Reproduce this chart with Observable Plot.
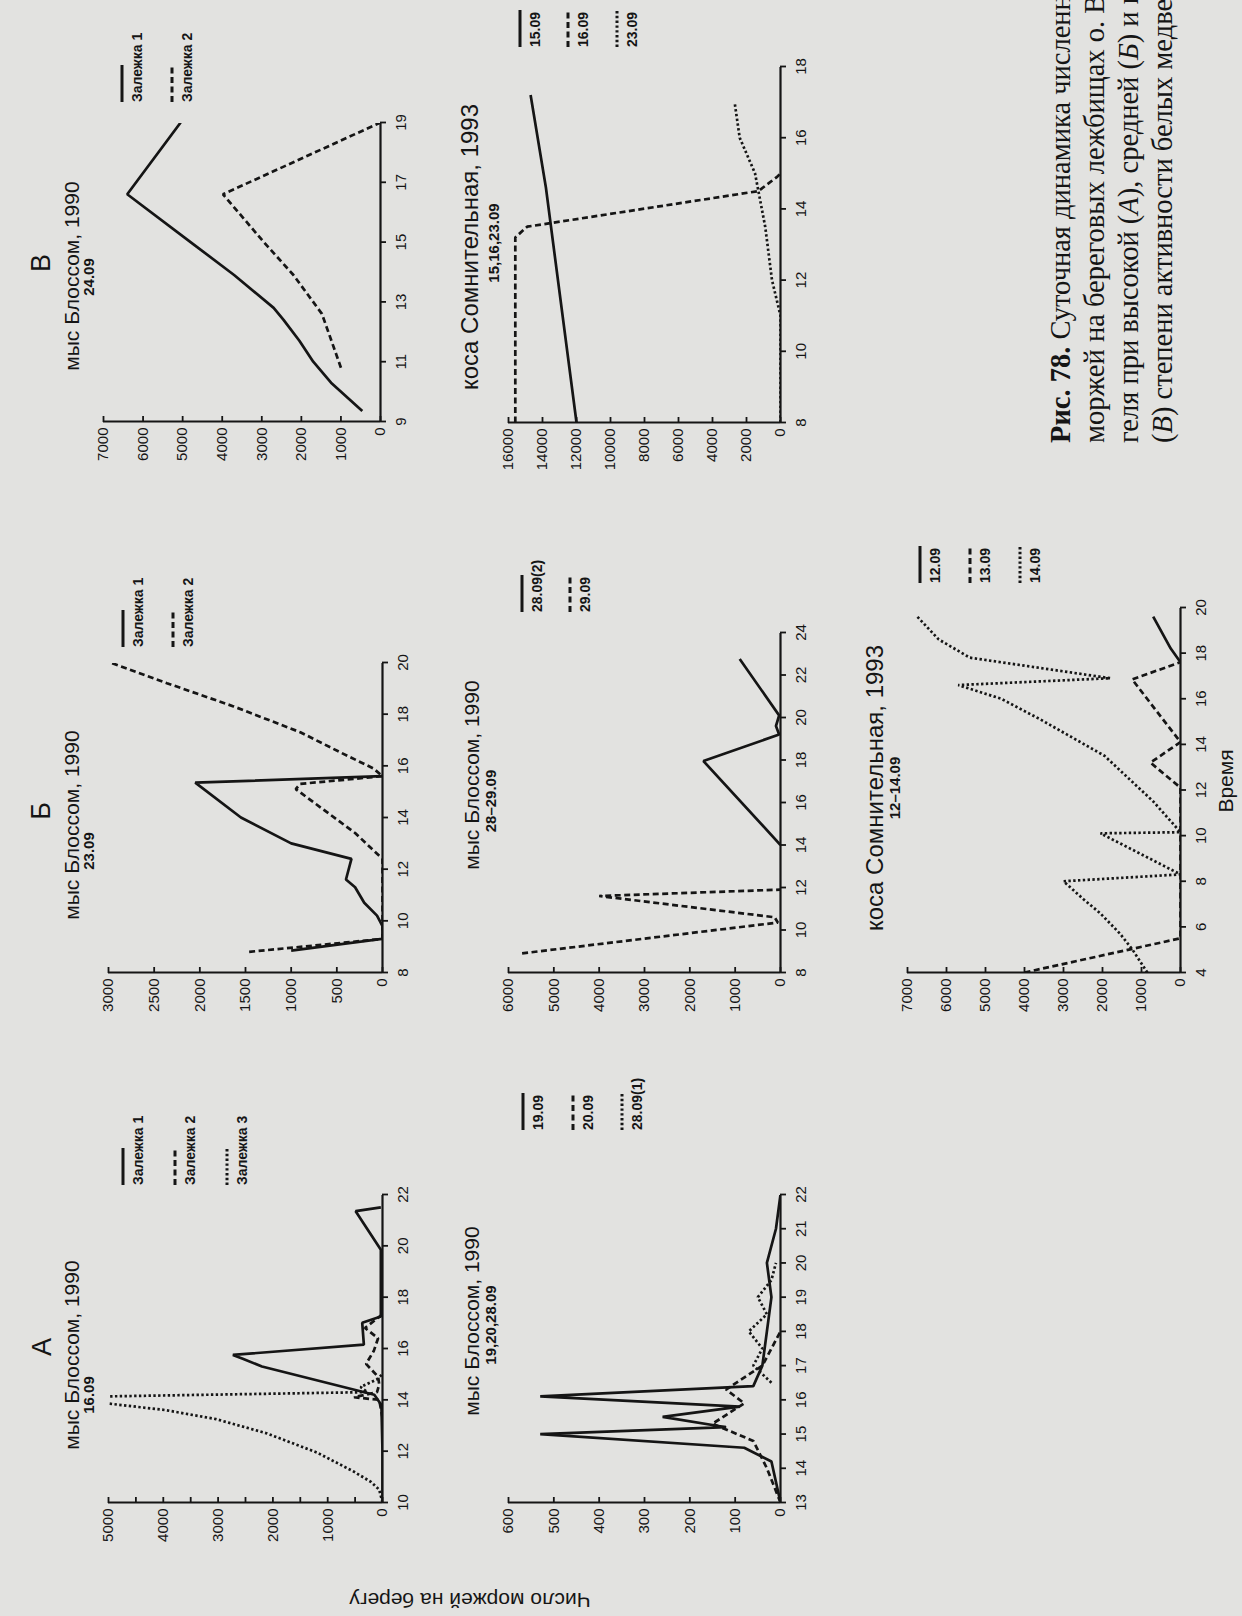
<!DOCTYPE html>
<html lang="ru"><head><meta charset="utf-8">
<script src="https://cdn.jsdelivr.net/npm/d3@7"></script>
<script src="https://cdn.jsdelivr.net/npm/@observablehq/plot@0.6"></script>
<style>
html,body{margin:0;padding:0;width:1242px;height:1616px;overflow:hidden;background:#e2e2e0;}
#page{position:absolute;left:0;top:0;width:1616px;height:1242px;transform-origin:0 0;transform:translate(0px,1616px) rotate(-90deg);font-family:"Liberation Sans",Arial,Helvetica,sans-serif;color:#151515;}
.t{position:absolute;white-space:nowrap;line-height:1;transform:translate(-50%,-50%);}
.letter{font-size:27px;}
.title{font-size:21px;}
.title2{font-size:24px;}
.sub{font-size:15px;font-weight:bold;}
.leg{position:absolute;font-size:14px;font-weight:bold;white-space:nowrap;line-height:1;}
.caption{position:absolute;font-family:"Liberation Serif","Times New Roman",serif;font-size:28.5px;line-height:34px;white-space:nowrap;}
</style></head><body><div id="page"></div>
<script>
// ===== DATA =====
// Panel А: мыс Блоссом, 1990, 16.09 (time, number of walruses)
const A_ticksX = [10, 12, 14, 16, 18, 20, 22];
const A_labelsY = [0, 1000, 2000, 3000, 4000, 5000];
const A_t1 = [10, 12, 13.8, 14.2, 15.3, 15.6, 15.75, 16.15, 17.0, 17.25, 18.0, 19.85, 21.35, 21.5];
const A_v1 = [0, 0, 20, 150, 2200, 2550, 2730, 340, 370, 30, 30, 30, 490, 30];
const A_t2 = [13.3, 14.0, 14.1, 14.3, 14.6, 14.9, 15.4, 15.9, 16.4, 16.8, 17.3];
const A_v2 = [0, 60, 520, 100, 60, 80, 300, 160, 80, 320, 20];
const A_t3 = [10, 10.5, 10.8, 11.2, 11.95, 12.7, 13.25, 13.6, 14.1, 14.3, 14.5, 14.8, 15.0];
const A_v3 = [0, 60, 210, 520, 1200, 2120, 3040, 3960, 6000, 275, 400, 100, 0];

// Panel Б: мыс Блоссом, 1990, 23.09
const B_ticksX = [8, 10, 12, 14, 16, 18, 20];
const B_labelsY = [0, 500, 1000, 1500, 2000, 2500, 3000];
const B_t1 = [8.85, 9.3, 9.8, 10.2, 10.7, 11.3, 11.6, 12.4, 13.0, 14.0, 15.35, 15.6];
const B_v1 = [1000, 0, 0, 60, 200, 300, 400, 340, 1000, 1550, 2050, 0];
const B_t2 = [8.8, 9.3, 12.4, 13.4, 15.1, 15.3, 15.6, 15.9, 16.5, 17.3, 18.3, 19.2, 20.0];
const B_v2 = [1460, 0, 0, 300, 950, 900, 0, 100, 450, 900, 1630, 2360, 2980];

// Panel В: мыс Блоссом, 1990, 24.09
const C_ticksX = [9, 11, 13, 15, 17, 19];
const C_labelsY = [0, 1000, 2000, 3000, 4000, 5000, 6000, 7000];
const C_t1 = [9.35, 10.3, 11.0, 11.7, 12.4, 12.8, 13.9, 14.9, 16.6, 19.0];
const C_v1 = [460, 1250, 1700, 2050, 2450, 2700, 3700, 4700, 6400, 5050];
const C_t2 = [10.8, 12.6, 13.9, 15.0, 16.6, 19.0];
const C_v2 = [1000, 1480, 2200, 2950, 3980, 0];

// Panel А (2): мыс Блоссом, 1990, 19, 20, 28.09
const D_ticksX = [13, 14, 15, 16, 17, 18, 19, 20, 21, 22];
const D_labelsY = [0, 100, 200, 300, 400, 500, 600];
const D_t1 = [13, 14.2, 14.6, 15.0, 15.2, 15.5, 15.8, 16.1, 16.4, 17, 18, 19, 20, 21, 22];
const D_v1 = [0, 20, 80, 530, 120, 260, 90, 530, 60, 40, 30, 20, 30, 10, 0];
const D_t2 = [13, 14.0, 14.8, 15.3, 15.9, 16.3, 17.0, 18.0];
const D_v2 = [0, 30, 60, 150, 80, 120, 40, 0];
const D_t3 = [16.5, 17.0, 17.5, 18.0, 18.5, 19.0, 19.5, 20.0];
const D_v3 = [20, 60, 40, 70, 30, 50, 20, 10];

// Panel Б (2): мыс Блоссом, 1990, 28–29.09
const E_ticksX = [8, 10, 12, 14, 16, 18, 20, 22, 24];
const E_labelsY = [0, 1000, 2000, 3000, 4000, 5000, 6000];
const E_t1 = [14.0, 17.95, 19.2, 19.6, 20.1, 22.75];
const E_v1 = [0, 1700, 30, 100, 30, 900];
const E_t2 = [8.9, 10.35, 10.6, 11.6, 11.9];
const E_v2 = [5700, 60, 130, 4000, 0];

// Panel В (2): коса Сомнительная, 1993, 15, 16, 23.09
const F_ticksX = [8, 10, 12, 14, 16, 18];
const F_labelsY = [0, 2000, 4000, 6000, 8000, 10000, 12000, 14000, 16000];
const F_t1 = [8.0, 14.6, 17.2];
const F_v1 = [12000, 13800, 14700];
const F_t2 = [8.0, 13.2, 13.5, 14.5, 14.9, 15.0];
const F_v2 = [15600, 15600, 14900, 1300, 200, 0];
const F_t3 = [8.0, 11.0, 12.0, 13.5, 15.0, 16.0, 17.0];
const F_v3 = [0, 0, 500, 900, 1500, 2400, 2700];

// Panel Б (3): коса Сомнительная, 1993, 12–14.09
const G_ticksX = [4, 6, 8, 10, 12, 14, 16, 18, 20];
const G_labelsY = [0, 1000, 2000, 3000, 4000, 5000, 6000, 7000];
const G_t1 = [17.6, 18.2, 19.6];
const G_v1 = [0, 250, 700];
const G_t2 = [4.0, 5.5, 12.1, 13.2, 14.1, 16.85, 17.6];
const G_v2 = [4000, 0, 0, 770, 0, 1240, 0];
const G_t3 = [4.0, 5.0, 5.7, 6.6, 7.2, 8.0, 8.3, 10.1, 10.15, 11.5, 13.5, 15.1, 16.0, 16.6, 16.9, 17.6, 17.8, 18.6, 19.6];
const G_v3 = [850, 1230, 1550, 2060, 2480, 3000, 0, 2050, 0, 700, 1950, 3600, 4600, 5700, 1800, 4600, 5400, 6200, 6750];

// ===== RENDERING =====
const INK = "#151515";
const DASH = {solid: null, dashed: "6,3.5", dotted: "2.4,2.4"};
const page = document.getElementById("page");
const zip = (t, v) => t.map((d, i) => ({t: d, v: v[i]}));
const range = (a, b, s) => d3.range(a, b + s / 2, s);

function panel(cfg) {
  const mL = 60, mR = 14, mT = 12, mB = 40;
  const W = cfg.px[1] - cfg.px[0], H = cfg.py[1] - cfg.py[0];
  const yMax = cfg.labelsY[cfg.labelsY.length - 1];
  const marks = [
    Plot.ruleY(cfg.ticksY, {stroke: INK, strokeWidth: 1.8, insetRight: W - 6}),
    Plot.axisY({ticks: cfg.labelsY, tickSize: 0, tickPadding: 6, fontSize: 15, tickFormat: d => String(d), label: null}),
    Plot.axisX({ticks: cfg.ticksX, tickSize: 6, tickPadding: 9, fontSize: 15, strokeWidth: 1.8, tickFormat: d => String(d), label: null}),
    Plot.ruleX([cfg.x[0]], {y1: 0, y2: yMax, stroke: INK, strokeWidth: 2.2}),
    Plot.ruleY([0], {x1: cfg.x[0], x2: cfg.x[1], stroke: INK, strokeWidth: 2.2})
  ];
  for (const s of cfg.series) {
    marks.push(Plot.line(zip(s.t, s.v), {x: "t", y: "v", stroke: INK, strokeWidth: 2.7,
      strokeDasharray: DASH[s.style], strokeLinecap: "butt", strokeLinejoin: "miter", clip: true}));
  }
  const svg = Plot.plot({
    width: W + mL + mR, height: H + mT + mB,
    marginLeft: mL, marginRight: mR, marginTop: mT, marginBottom: mB,
    x: {domain: cfg.x}, y: {domain: [0, yMax]},
    style: {background: "transparent", color: INK, fontFamily: "'Liberation Sans', Arial, sans-serif", fontSize: "15px", overflow: "visible"},
    marks
  });
  svg.style.position = "absolute";
  svg.style.left = (cfg.px[0] - mL) + "px";
  svg.style.top = (cfg.py[0] - mT) + "px";
  svg.style.maxWidth = "none";
  page.append(svg);
}

function text(str, cls, cx, cy) {
  const d = document.createElement("div");
  d.className = "t " + cls;
  d.textContent = str;
  d.style.left = cx + "px"; d.style.top = cy + "px";
  page.append(d);
  return d;
}

function legend(x, ys, labels, styles) {
  labels.forEach((lab, i) => {
    const ns = "http://www.w3.org/2000/svg";
    const s = document.createElementNS(ns, "svg");
    s.setAttribute("width", 40); s.setAttribute("height", 6);
    s.style.position = "absolute"; s.style.left = x + "px"; s.style.top = (ys[i] - 3) + "px";
    const l = document.createElementNS(ns, "line");
    l.setAttribute("x1", 0); l.setAttribute("x2", 37); l.setAttribute("y1", 3); l.setAttribute("y2", 3);
    l.setAttribute("stroke", INK); l.setAttribute("stroke-width", 3);
    if (DASH[styles[i]]) l.setAttribute("stroke-dasharray", DASH[styles[i]]);
    s.append(l); page.append(s);
    const d = document.createElement("div");
    d.className = "leg"; d.textContent = lab;
    d.style.left = x + "px"; d.style.top = (ys[i] + 8) + "px";
    page.append(d);
  });
}

const S = (t, v, style) => ({t, v, style});
const ZAL = ["Залежка 1", "Залежка 2", "Залежка 3"];

// Row 1
panel({px: [113, 421], py: [108, 382], x: [10, 22], ticksX: A_ticksX, ticksY: range(0, 5000, 500), labelsY: A_labelsY,
  series: [S(A_t1, A_v1, "solid"), S(A_t2, A_v2, "dashed"), S(A_t3, A_v3, "dotted")]});
panel({px: [643, 953], py: [108, 382], x: [8, 20], ticksX: B_ticksX, ticksY: B_labelsY, labelsY: B_labelsY,
  series: [S(B_t1, B_v1, "solid"), S(B_t2, B_v2, "dashed")]});
panel({px: [1194, 1493], py: [103, 380], x: [9, 19], ticksX: C_ticksX, ticksY: C_labelsY, labelsY: C_labelsY,
  series: [S(C_t1, C_v1, "solid"), S(C_t2, C_v2, "dashed")]});
// Row 2
panel({px: [113, 421], py: [508, 780], x: [13, 22], ticksX: D_ticksX, ticksY: D_labelsY, labelsY: D_labelsY,
  series: [S(D_t1, D_v1, "solid"), S(D_t2, D_v2, "dashed"), S(D_t3, D_v3, "dotted")]});
panel({px: [643, 983], py: [508, 780], x: [8, 24], ticksX: E_ticksX, ticksY: E_labelsY, labelsY: E_labelsY,
  series: [S(E_t1, E_v1, "solid"), S(E_t2, E_v2, "dashed")]});
panel({px: [1193, 1549], py: [508, 780], x: [8, 18], ticksX: F_ticksX, ticksY: F_labelsY, labelsY: F_labelsY,
  series: [S(F_t1, F_v1, "solid"), S(F_t2, F_v2, "dashed"), S(F_t3, F_v3, "dotted")]});
// Row 3
panel({px: [643, 1008], py: [907, 1180], x: [4, 20], ticksX: G_ticksX, ticksY: G_labelsY, labelsY: G_labelsY,
  series: [S(G_t1, G_v1, "solid"), S(G_t2, G_v2, "dashed"), S(G_t3, G_v3, "dotted")]});

// Headings
text("А", "letter", 269, 42); text("мыс Блоссом, 1990", "title", 261, 71); text("16.09", "sub", 221, 88);
text("Б", "letter", 805, 41); text("мыс Блоссом, 1990", "title", 791, 71); text("23.09", "sub", 765, 88);
text("В", "letter", 1353, 41); text("мыс Блоссом, 1990", "title", 1340, 71); text("24.09", "sub", 1339, 88);
text("мыс Блоссом, 1990", "title", 295, 471); text("19,20,28.09", "sub", 291, 490);
text("мыс Блоссом, 1990", "title", 841, 471); text("28–29.09", "sub", 815, 490);
text("коса Сомнительная, 1993", "title2", 1369, 470); text("15,16,23.09", "sub", 1373, 493);
text("коса Сомнительная, 1993", "title2", 828, 875); text("12–14.09", "sub", 828, 894);

// Legends
legend(431, [123, 175, 227], ZAL, ["solid", "dashed", "dotted"]);
legend(969, [123, 173], ZAL.slice(0, 2), ["solid", "dashed"]);
legend(1514, [122, 172], ZAL.slice(0, 2), ["solid", "dashed"]);
legend(486, [523, 573, 622], ["19.09", "20.09", "28.09(1)"], ["solid", "dashed", "dotted"]);
legend(1004, [522, 570], ["28.09(2)", "29.09"], ["solid", "dashed"]);
legend(1569, [520, 568, 617], ["15.09", "16.09", "23.09"], ["solid", "dashed", "dotted"]);
legend(1033, [920, 970, 1020], ["12.09", "13.09", "14.09"], ["solid", "dashed", "dotted"]);

// Axis titles
text("Время", "title", 835, 1225);
const yl = text("Число моржей на берегу", "title", 16, 470);
yl.style.transform = "translate(-50%,-50%) rotate(-90deg)";

// Caption
const cap = document.createElement("div");
cap.className = "caption";
cap.style.left = "1173px"; cap.style.top = "1044px";
cap.innerHTML = "<b>Рис. 78.</b> Суточная динамика численности<br>моржей на береговых лежбищах о. Вран-<br>геля при высокой (<i>А</i>), средней (<i>Б</i>) и низкой<br>(<i>В</i>) степени активности белых медведей";
page.append(cap);
</script></body></html>
